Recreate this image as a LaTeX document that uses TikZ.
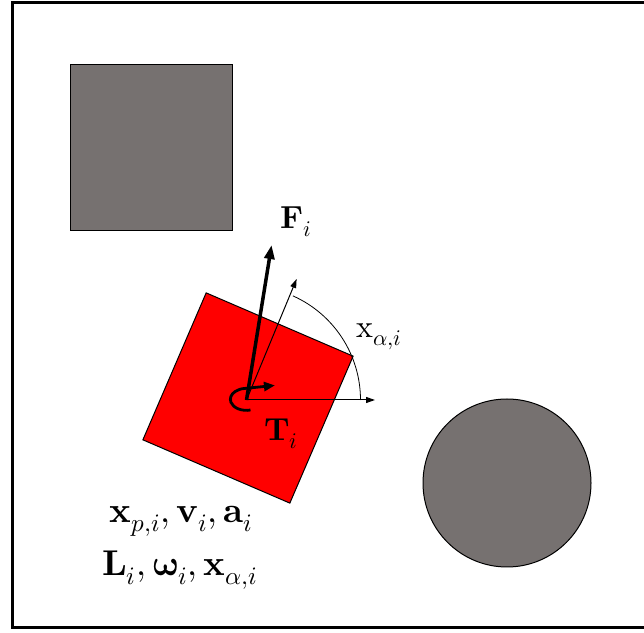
\documentclass[tikz,border=0pt]{standalone}
\usepackage{amsmath}
\usepackage{unicode-math}
\setmathfont{Latin Modern Math}
\usetikzlibrary{arrows.meta}

\definecolor{obstacle}{RGB}{118,113,112}

\begin{document}
\begin{tikzpicture}[
  x=1bp, y=1bp,
  obst/.style={draw, line width=1bp, fill=obstacle, inner sep=0pt},
  body/.style={rectangle, draw, line width=1bp, fill=red, minimum size=160bp, inner sep=0pt, rotate=-23.3},
  thinarr/.style={-{Triangle[length=9bp, width=6bp]}, line width=1bp},
  forcearr/.style={-{Triangle[length=14bp, width=10bp]}, line width=3.5bp},
  torque/.style={-{Triangle[length=11bp, width=9bp]}, line width=2.8bp},
  lbl/.style={font=\fontsize{32}{34}\selectfont, inner sep=0pt},
  statetext/.style={font=\fontsize{36}{40}\selectfont, inner sep=0pt, anchor=base}
]
  \useasboundingbox (0,0) rectangle (644,633);

  % Domain frame
  \draw[line width=3bp] (12.5,5) rectangle (660,630);

  % Obstacles
  \node[obst, rectangle, minimum width=162bp, minimum height=166bp] (wall) at (151,485) {};
  \node[obst, circle, minimum size=168bp] (disk) at (507,150) {};

  % Particle
  \node[body] (particle) at (248,235) {};
  \coordinate (com) at (246.5,233);
  \coordinate (xaxis) at (375,233);
  \path (com) ++(67.5:131) coordinate (heading);
  \path (com) ++(80.8:157) coordinate (ftip);

  % Orientation
  \draw[thinarr] (com) -- (xaxis);
  \draw[thinarr] (com) -- (heading);
  \draw[line width=0.8bp] (com) ++(114,0) arc[start angle=0, end angle=66, radius=114];

  % Force and torque
  \draw[forcearr] (com) -- (ftip);
  \draw[torque] (com) ++(4,-10) arc[start angle=285, end angle=95, x radius=16, y radius=11] -- ++(30,3);

  % Labels
  \node[lbl] (flabel) at (296,411) {$\symbf{F}_i$};
  \node[lbl] (alabel) at (379,296) {$\symup{x}_{\alpha,i}$};
  \node[lbl] (tlabel) at (281,199) {$\symbf{T}_i$};
  \node[statetext] (kin) at (181,110) {$\symbf{x}_{p,i}, \symbf{v}_i, \symbf{a}_i$};
  \node[statetext] (rot) at (180,57) {$\symbf{L}_i, \symbfup{\omega}_i, \symbf{x}_{\alpha,i}$};
\end{tikzpicture}
\end{document}
